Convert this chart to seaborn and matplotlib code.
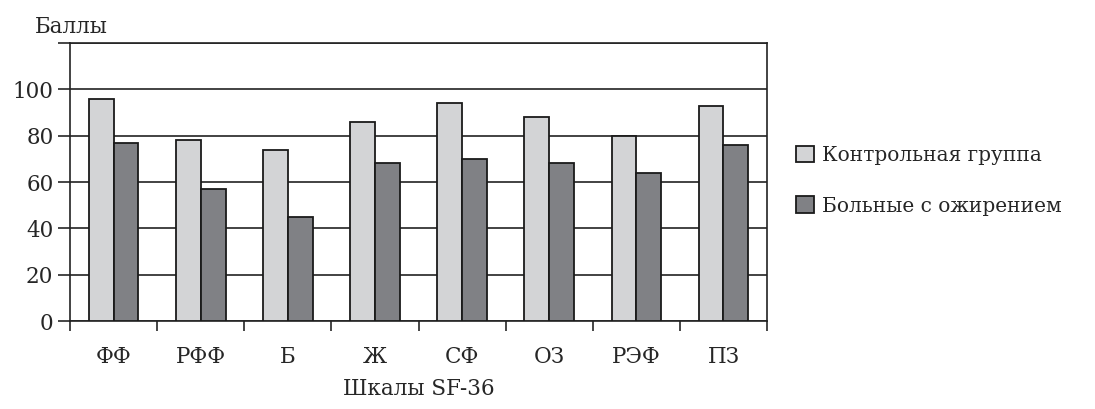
import pandas as pd
import seaborn as sns
import matplotlib.pyplot as plt
from matplotlib.ticker import FixedLocator, NullFormatter

# Data
scales = ["ФФ", "РФФ", "Б", "Ж", "СФ", "ОЗ", "РЭФ", "ПЗ"]
control = [96, 78, 74, 86, 94, 88, 80, 93]
obese = [77, 57, 45, 68, 70, 68, 64, 76]
groups = ["Контрольная группа", "Больные с ожирением"]
y_ticks = [0, 20, 40, 60, 80, 100, 120]
y_tick_labels = ["0", "20", "40", "60", "80", "100", ""]

df = pd.DataFrame({
    "scale": scales * 2,
    "value": control + obese,
    "group": [groups[0]] * len(scales) + [groups[1]] * len(scales),
})

sns.set_style("white")
plt.rcParams['font.family'] = ['DejaVu Serif']
fs = 15.5

fig = plt.figure(figsize=(10.95, 4.09), dpi=100)
ax = fig.add_axes([0.064, 0.215, 0.6365, 0.68])

sns.barplot(data=df, x="scale", y="value", hue="group", order=scales,
            hue_order=groups, palette=["#d3d4d6", "#808185"], width=0.57,
            edgecolor="#1a1a1a", linewidth=1.3, saturation=1, ax=ax, zorder=3)

ax.set_ylim(0, 120)
ax.set_xlim(-0.5, len(scales) - 0.5)
ax.set_yticks(y_ticks)
ax.set_yticklabels(y_tick_labels, fontsize=fs)
ax.yaxis.grid(True, color="#222222", linewidth=1.2, zorder=0)
ax.set_axisbelow(True)

# category labels without ticks, tick marks at group boundaries
ax.tick_params(axis="x", which="major", length=0, labelsize=fs, pad=18)
ax.xaxis.set_minor_locator(FixedLocator([i - 0.5 for i in range(len(scales) + 1)]))
ax.xaxis.set_minor_formatter(NullFormatter())
ax.tick_params(axis="x", which="minor", length=7, width=1.2, direction="out", bottom=True)
ax.tick_params(axis="y", length=9, width=1.2, direction="out", left=True, pad=3)

for side in ["left", "right", "bottom", "top"]:
    ax.spines[side].set_visible(True)
    ax.spines[side].set_color("#222222")
    ax.spines[side].set_linewidth(1.2)

ax.set_xlabel("Шкалы SF-36", fontsize=fs, labelpad=7)
ax.set_ylabel("")
fig.text(0.032, 0.92, "Баллы", fontsize=fs)

ax.legend(loc="center left", bbox_to_anchor=(1.015, 0.505), frameon=False,
          fontsize=14.5, handlelength=0.9, handleheight=0.9, handletextpad=0.4,
          labelspacing=1.55)

fig.savefig("out.png", dpi=100)
